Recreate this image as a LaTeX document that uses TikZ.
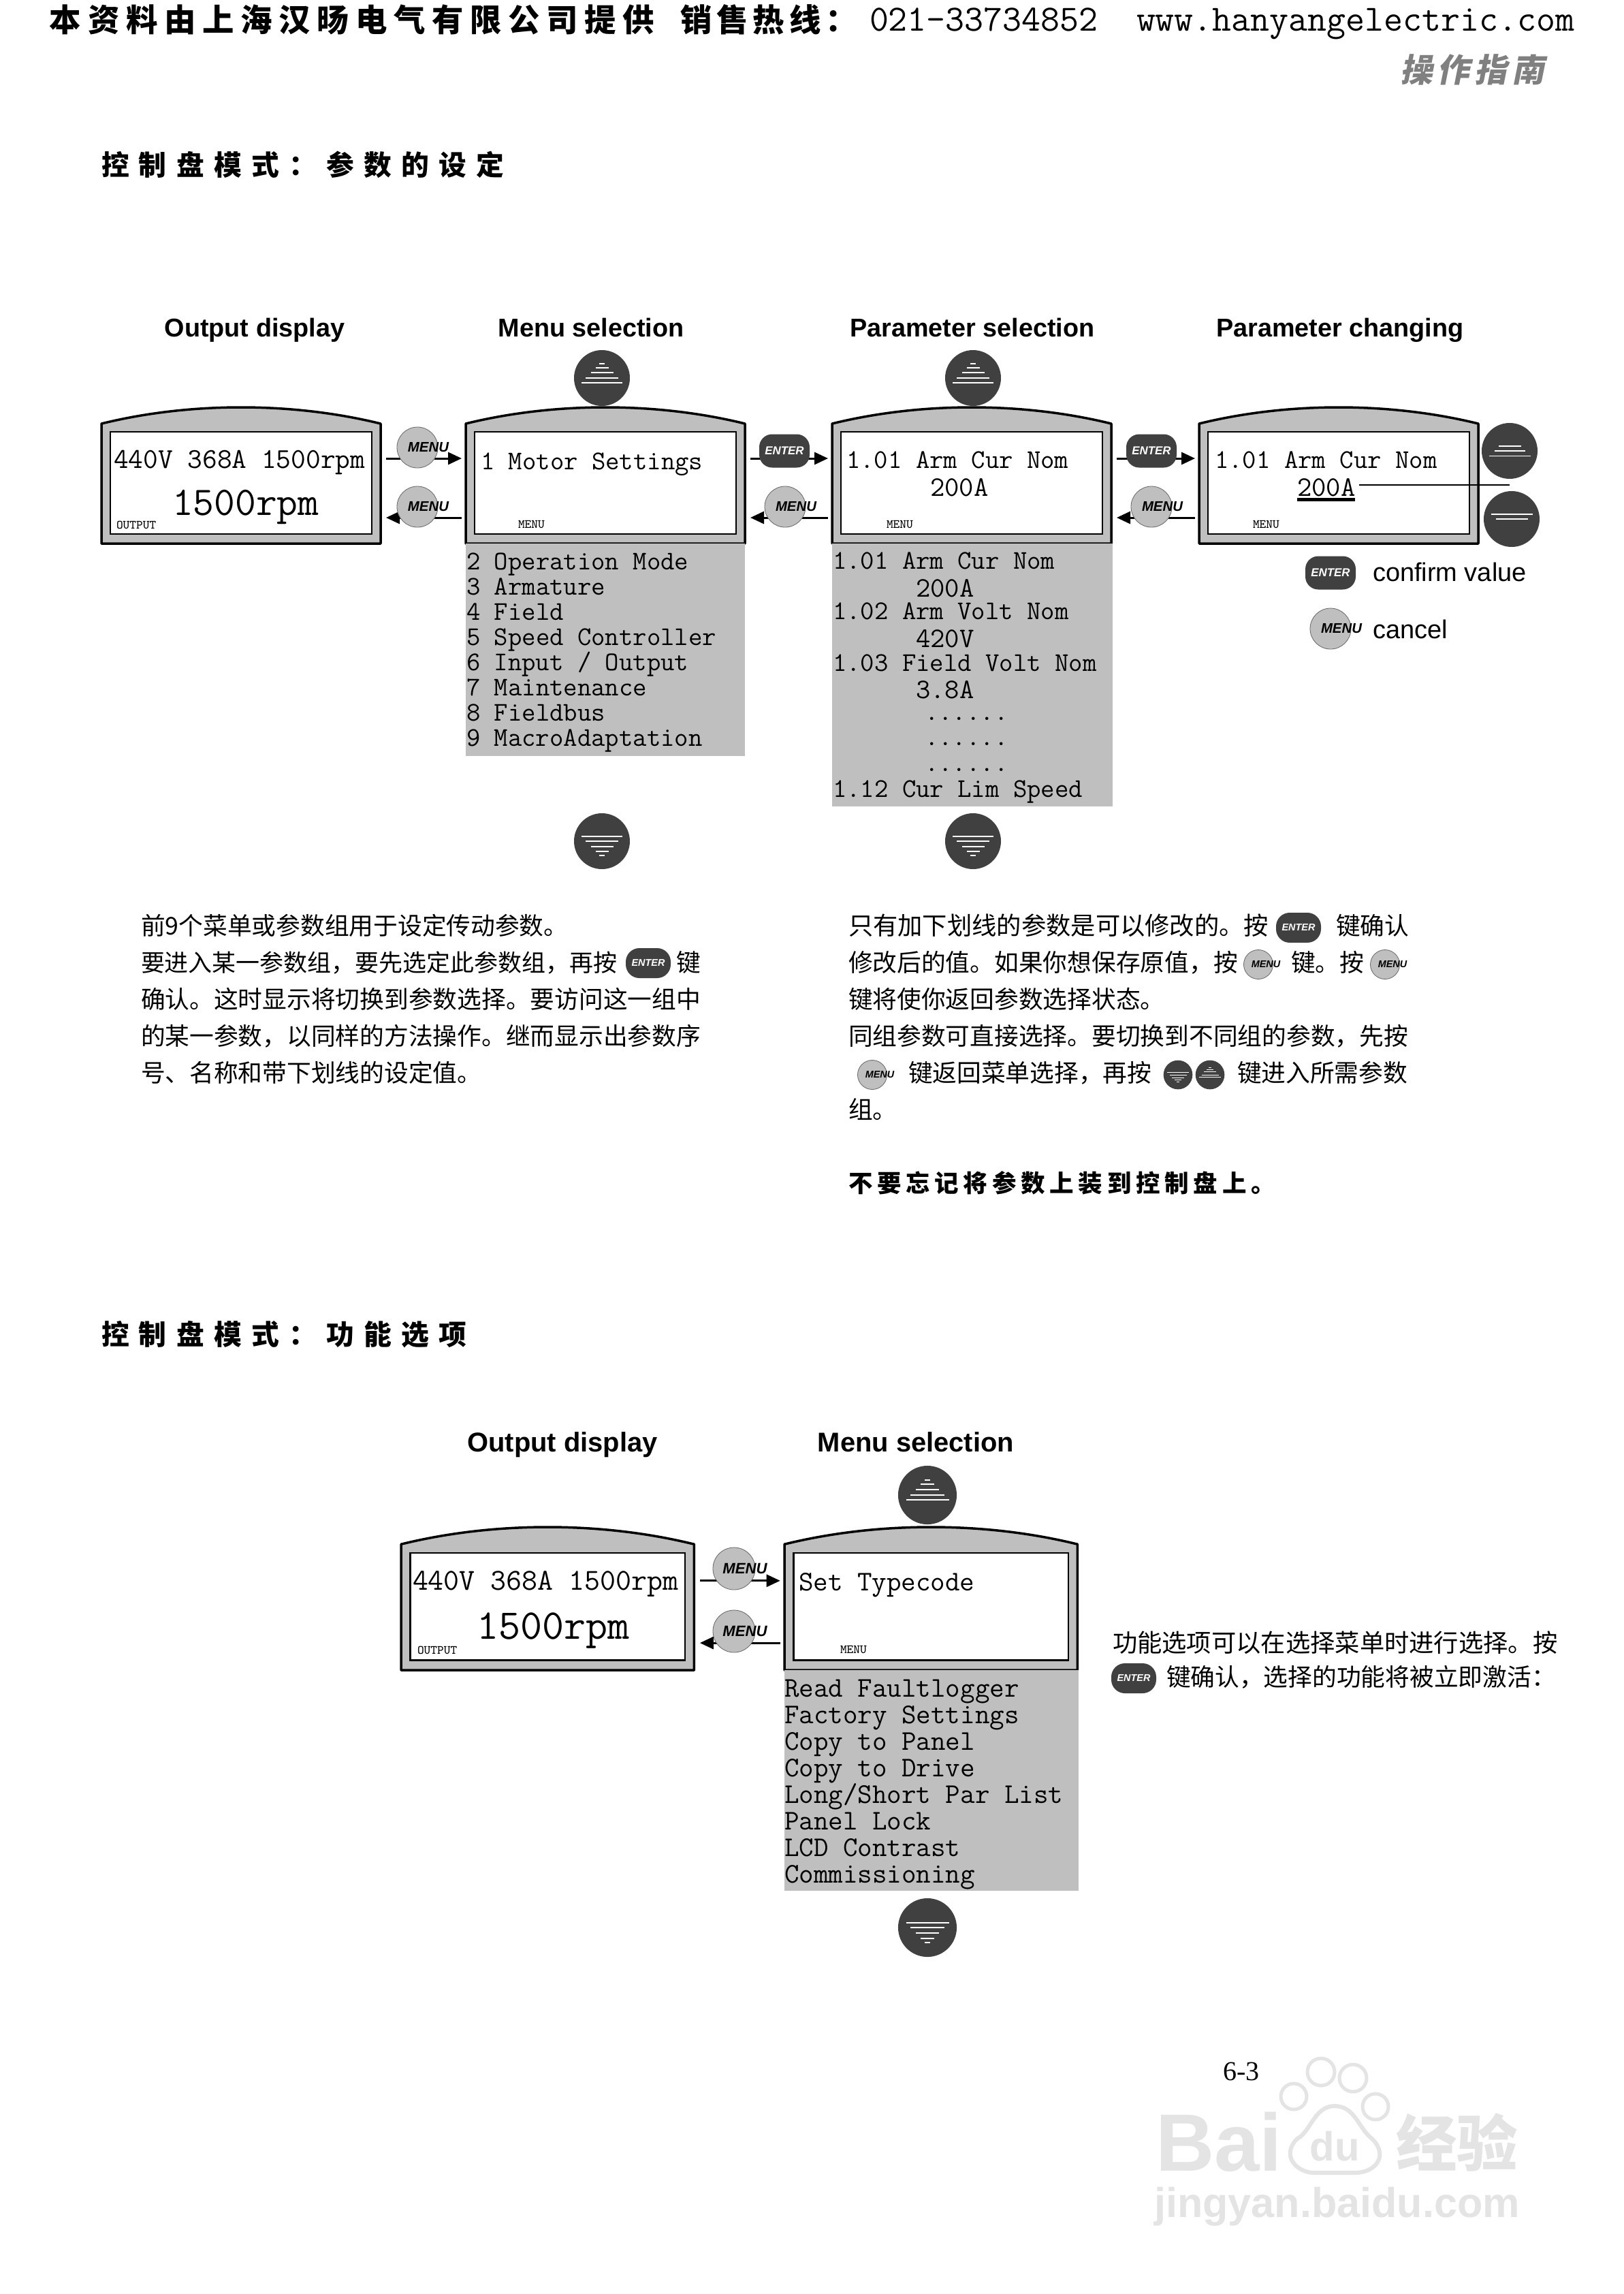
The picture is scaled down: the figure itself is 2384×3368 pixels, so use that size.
\documentclass[tikz,border=0pt]{standalone}
\usepackage{fontspec}
\setsansfont{Liberation Sans}
\newfontfamily\cjk{Noto Sans CJK SC}
\newfontfamily\cjkwide[LetterSpace=19]{Noto Sans CJK SC}
\newfontfamily\cjktop[LetterSpace=21]{Noto Sans CJK SC}
\newfontfamily\cjkhead[LetterSpace=35]{Noto Sans CJK SC}
\newfontfamily\cjkbold[LetterSpace=15]{Noto Sans CJK SC}
\newfontfamily\cjkslant[LetterSpace=15,FakeSlant=0.2]{Noto Sans CJK SC}
\newfontfamily\serifnum{Liberation Serif}
\usetikzlibrary{arrows.meta,positioning}
\definecolor{keydark}{HTML}{404040}
\definecolor{keylight}{HTML}{BFBFBF}
\definecolor{wmark}{HTML}{E4E4E4}

\begin{document}
\begin{tikzpicture}[
  x=.1mm,y=-.1mm,
  every node/.style={inner sep=0pt,outer sep=0pt},
  lcd/.style={anchor=base west,font=\ttfamily\fontsize{11.27pt}{12pt}\selectfont},
  lcdbig/.style={anchor=base west,font=\ttfamily\fontsize{12pt}{13pt}\selectfont},
  lcdhuge/.style={anchor=base west,font=\ttfamily\fontsize{17pt}{18pt}\selectfont},
  lcdtiny/.style={anchor=base west,font=\ttfamily\fontsize{5.2pt}{6pt}\selectfont},
  lcdval/.style={lcd,font=\ttfamily\fontsize{11.8pt}{12pt}\selectfont},
  lcdlong/.style={lcd,font=\ttfamily\fontsize{11.9pt}{12pt}\selectfont},
  greybox/.style={fill=keylight,draw=none,anchor=north west,minimum width=41mm},
  title/.style={anchor=base,font=\sffamily\bfseries\fontsize{10.75pt}{12pt}\selectfont},
  titlebig/.style={anchor=base,font=\sffamily\bfseries\fontsize{11.35pt}{12pt}\selectfont},
  body/.style={anchor=base west,font=\cjk\fontsize{10.17pt}{12pt}\selectfont},
  bodywide/.style={anchor=base west,font=\cjk\fontsize{10.33pt}{12pt}\selectfont},
  bodyslim/.style={anchor=base west,font=\cjk\fontsize{9.95pt}{12pt}\selectfont},
  chead/.style={anchor=base west,font=\cjkhead\bfseries\fontsize{11.6pt}{14pt}\selectfont},
  arr/.style={-{Triangle[length=2mm,width=1.8mm]},line width=.3mm},
  keyround/.style={circle,fill=keydark,minimum size=8.2mm*#1},
  upkey/.style={keyround=#1,path picture={
    \foreach \yy/\ww in {-21/8,-15/19,-8/33,0/48,7/60}
      \draw[white,line width=#1*.2mm] ([shift={({-\ww*#1/2},{\yy*#1})}]path picture bounding box.center) -- ++({\ww*#1},0);}},
  downkey/.style={keyround=#1,path picture={
    \foreach \yy/\ww in {21/8,15/19,8/33,0/48,-7/60}
      \draw[white,line width=#1*.2mm] ([shift={({-\ww*#1/2},{\yy*#1})}]path picture bounding box.center) -- ++({\ww*#1},0);}},
  upkey/.default=1,downkey/.default=1,
  incpkey/.style={keyround=1,path picture={
    \foreach \yy/\ww in {-7/33,0/45,7.5/61}
      \draw[white,line width=.17mm] ([shift={({-\ww/2},\yy)}]path picture bounding box.center) -- ++(\ww,0);}},
  decpkey/.style={keyround=1,path picture={
    \foreach \yy/\ww in {-7/61,0/47}
      \draw[white,line width=.17mm] ([shift={({-\ww/2},\yy)}]path picture bounding box.center) -- ++(\ww,0);}},
  enterkey/.style={rounded corners=1.9mm,fill=keydark,minimum width=7.4mm,minimum height=4.9mm,text=white,font=\sffamily\bfseries\itshape\fontsize{4.8pt}{5pt}\selectfont},
  enterkeysm/.style={enterkey,minimum width=6.6mm,minimum height=4.4mm,rounded corners=2mm,font=\sffamily\bfseries\itshape\fontsize{4.1pt}{5pt}\selectfont},
  menukey/.style={circle,fill=keylight,draw=black!60,line width=.08mm,minimum size=6mm,
    label={[font=\sffamily\bfseries\itshape\fontsize{5.8pt}{6pt}\selectfont,xshift=1.6mm]center:MENU}},
  menukeybig/.style={circle,fill=keylight,draw=black!60,line width=.08mm,minimum size=6.2mm,
    label={[font=\sffamily\bfseries\itshape\fontsize{6.3pt}{6pt}\selectfont,xshift=1.6mm]center:MENU}},
  menukeysm/.style={circle,fill=keylight,draw=black!60,line width=.08mm,minimum size=4.3mm,
    label={[font=\sffamily\bfseries\itshape\fontsize{4.1pt}{5pt}\selectfont,xshift=1.1mm]center:MENU}},
  panel/.pic={
    \path[fill=keylight,draw=black,line width=.35mm,line join=round] (0,24) .. controls (130,-8) and (280,-8) .. (410,24) -- (410,200) -- (0,200) -- cycle;
    \path[fill=white,draw=black,line width=.25mm] (13,36) rectangle (397,186);
    \coordinate (-ru) at (418,75);
    \coordinate (-rd) at (418,162);
    \coordinate (-lu) at (-6,75);
    \coordinate (-ld) at (-6,162);
    \coordinate (-list) at (0,200);
  }
]
\useasboundingbox (0,0) rectangle (2384,3368);

% header
\node[anchor=base west,font=\cjktop\bfseries\fontsize{13.2pt}{14pt}\selectfont] (hdr) at (73,46) {本资料由上海汉旸电气有限公司提供};
\node[anchor=base west,font=\cjkbold\bfseries\fontsize{13.2pt}{14pt}\selectfont] (hot) at (999,46) {销售热线：};
\node[anchor=base west,font=\ttfamily\fontsize{15.45pt}{16pt}\selectfont] (tel) at (1277,45) {021-33734852};
\node[anchor=base west,font=\ttfamily\fontsize{15.45pt}{16pt}\selectfont] (web) at (1669,45) {www.hanyangelectric.com};
\node[anchor=base west,text=black!50,font=\cjkslant\bfseries\fontsize{13.6pt}{14pt}\selectfont] (guide) at (2056,120) {操作指南};

% first section
\node[chead] (sec1) at (149,257) {控制盘模式：参数的设定};
\node[title] (t1) at (374,494) {Output display};
\node[title] (t2) at (868,494) {Menu selection};
\node[title] (t3) at (1428,494) {Parameter selection};
\node[title] (t4) at (1968,494) {Parameter changing};

\pic (pa) at (149,598) {panel};
\pic (pb) at (684,598) {panel};
\pic (pc) at (1222,598) {panel};
\pic (pd) at (1761,598) {panel};

\node[greybox,minimum height=31.2mm] (lb) at (pb-list) {};
\node[greybox,minimum width=41.2mm,minimum height=38.6mm] (lc) at (pc-list) {};

\draw[arr] (pa-ru)--(pb-lu);\draw[arr] (pb-ld)--(pa-rd);
\draw[arr] (pb-ru)--(pc-lu);\draw[arr] (pc-ld)--(pb-rd);
\draw[arr] (pc-ru)--(pd-lu);\draw[arr] (pd-ld)--(pc-rd);

\node[menukey] (ma1) at (613,657) {};
\node[menukey] (ma2) at (613,744) {};
\node[enterkey] (eb) at (1152,662) {ENTER};
\node[menukey] (mb) at (1153,744) {};
\node[enterkey] (ec) at (1691,662) {ENTER};
\node[menukey] (mc) at (1691,744) {};
\node[upkey] (ub) at (884,555) {};
\node[upkey] (uc) at (1429,555) {};
\node[downkey] (db) at (884,1235) {};
\node[downkey] (dc) at (1429,1235) {};
\node[incpkey] (ud) at (2217,662) {};
\node[decpkey] (dd) at (2220,762) {};

\node[lcdbig] (a1) at (167,687) {440V 368A 1500rpm};
\node[lcdhuge] (a2) at (253,756) {1500rpm};
\node[lcdtiny] (a3) at (171,776) {OUTPUT};
\node[lcd] (b1) at (706,689) {1 Motor Settings};
\node[lcdtiny] (b2) at (761,775) {MENU};
\node[lcd] (c1) at (1243,687) {1.01 Arm Cur Nom};
\node[lcdval] (c2) at (1366,728) {200A};
\node[lcdtiny] (c3) at (1302,775) {MENU};
\node[lcd] (d1) at (1784,687) {1.01 Arm Cur Nom};
\node[lcdval] (d2) at (1905,728) {200A};
\node[lcdtiny] (d3) at (1840,775) {MENU};
\draw[line width=.5mm] (d2.base west)+(0,5)--+(85,5);
\coordinate (dmid) at (2217,712);
\draw[line width=.2mm] (1996,712)--(dmid);

\node[enterkey] (ek) at (1954,841) {ENTER};
\node[anchor=base west,font=\sffamily\fontsize{10.8pt}{12pt}\selectfont] (ekt) at (2016,853) {confirm value};
\node[menukey] (mk) at (1954,923) {};
\node[anchor=base west,font=\sffamily\fontsize{10.8pt}{12pt}\selectfont] (mkt) at (2016,937) {cancel};

% menu list
\node[lcd] (l2) at (685,836) {2 Operation Mode};
\node[lcd] (l3) at (685,873) {3 Armature};
\node[lcd] (l4) at (685,910) {4 Field};
\node[lcd] (l5) at (685,947) {5 Speed Controller};
\node[lcd] (l6) at (685,984) {6 Input / Output};
\node[lcd] (l7) at (685,1021) {7 Maintenance};
\node[lcd] (l8) at (685,1058) {8 Fieldbus};
\node[lcd] (l9) at (685,1095) {9 MacroAdaptation};

% parameter list
\node[lcd] (q1) at (1223,835) {1.01 Arm Cur Nom};
\node[lcdval] (q2) at (1345,876) {200A};
\node[lcd] (q3) at (1223,909) {1.02 Arm Volt Nom};
\node[lcdval] (q4) at (1345,950) {420V};
\node[lcd] (q5) at (1223,985) {1.03 Field Volt Nom};
\node[lcdval] (q6) at (1345,1025) {3.8A};
\node[lcd] (q7) at (1358,1057) {......};
\node[lcd] (q8) at (1358,1094) {......};
\node[lcd] (q9) at (1358,1132) {......};
\node[lcd] (q10) at (1223,1170) {1.12 Cur Lim Speed};

% left text
\node[body] (x1) at (207,1372) {前9个菜单或参数组用于设定传动参数。};
\node[bodyslim] (x2) at (207,1426) {要进入某一参数组，要先选定此参数组，再按};
\node[enterkeysm] (xe) at (952,1414) {ENTER};
\node[body] (x2b) at (993,1426) {键};
\node[body] (x3) at (207,1480) {确认。这时显示将切换到参数选择。要访问这一组中};
\node[body] (x4) at (207,1534) {的某一参数，以同样的方法操作。继而显示出参数序};
\node[body] (x5) at (207,1588) {号、名称和带下划线的设定值。};

% right text
\node[bodywide] (y1) at (1246,1372) {只有加下划线的参数是可以修改的。按};
\node[enterkeysm] (ye) at (1907,1362) {ENTER};
\node[body] (y1b) at (1962,1372) {键确认};
\node[body] (y2) at (1246,1426) {修改后的值。如果你想保存原值，按};
\node[menukeysm] (ym1) at (1848,1416) {};
\node[body] (y2b) at (1896,1426) {键。按};
\node[menukeysm] (ym2) at (2034,1416) {};
\node[body] (y3) at (1246,1480) {键将使你返回参数选择状态。};
\node[body] (y4) at (1246,1534) {同组参数可直接选择。要切换到不同组的参数，先按};
\node[menukeysm] (ym3) at (1281,1578) {};
\node[body] (y5) at (1334,1588) {键返回菜单选择，再按};
\node[downkey=.52] (yd) at (1730,1578) {};
\node[upkey=.52] (yu) at (1777,1578) {};
\node[body] (y5b) at (1817,1588) {键进入所需参数};
\node[body] (y6) at (1246,1642) {组。};
\node[anchor=base west,font=\cjkwide\bfseries\fontsize{10.1pt}{12pt}\selectfont] (y7) at (1246,1750) {不要忘记将参数上装到控制盘上。};

% second section
\node[chead] (sec2) at (149,1974) {控制盘模式：功能选项};
\node[titlebig] (t5) at (826,2131) {Output display};
\node[titlebig] (t6) at (1345,2131) {Menu selection};

\coordinate (oe) at (589,2242);
\coordinate (of) at (1152,2242);
\pic[x=.105mm,y=-.105mm] (pe) at (oe) {panel};
\pic[x=.105mm,y=-.105mm] (pf) at (of) {panel};
\node[greybox,minimum width=43.2mm,minimum height=32.4mm] (lf) at (pf-list) {};

\draw[arr] (pe-ru)--(pf-lu);\draw[arr] (pf-ld)--(pe-rd);
\node[menukeybig] (me1) at (1078,2303) {};
\node[menukeybig] (me2) at (1078,2395) {};
\node[upkey=1.05] (uf) at (1362,2195) {};
\node[downkey=1.05] (df) at (1362,2830) {};

\node[anchor=base west,font=\ttfamily\fontsize{12.7pt}{13pt}\selectfont] (e1) at (606,2334) {440V 368A 1500rpm};
\node[anchor=base west,font=\ttfamily\fontsize{17.7pt}{18pt}\selectfont] (e2) at (700,2406) {1500rpm};
\node[lcdtiny] (e3) at (613,2428) {OUTPUT};
\node[lcdlong] (f1) at (1173,2335) {Set Typecode};
\node[lcdtiny] (f2) at (1234,2427) {MENU};

\node[lcdlong] (r1) at (1152,2491) {Read Faultlogger};
\node[lcdlong] (r2) at (1152,2530) {Factory Settings};
\node[lcdlong] (r3) at (1152,2569) {Copy to Panel};
\node[lcdlong] (r4) at (1152,2608) {Copy to Drive};
\node[lcdlong] (r5) at (1152,2647) {Long/Short Par List};
\node[lcdlong] (r6) at (1152,2686) {Panel Lock};
\node[lcdlong] (r7) at (1152,2725) {LCD Contrast};
\node[lcdlong] (r8) at (1152,2764) {Commissioning};

\node[bodywide] (z1) at (1634,2425) {功能选项可以在选择菜单时进行选择。按};
\node[enterkeysm] (ze) at (1665,2464) {ENTER};
\node[body] (z2) at (1713,2475) {键确认，选择的功能将被立即激活：};

% page number and watermark
\node[anchor=base west,font=\serifnum\fontsize{11.4pt}{12pt}\selectfont] (pg) at (1796,3054) {6-3};
\node[anchor=base west,text=wmark,font=\sffamily\bfseries\fontsize{34pt}{36pt}\selectfont] (wb) at (1697,3187) {Bai};
\draw[wmark,line width=.5mm,fill=white] (1900,3078) circle (19) (1940,3042) circle (20) (1987,3051) circle (20) (2020,3093) circle (19);
\draw[wmark,line width=.6mm,fill=white] (1960,3092) .. controls (1930,3092) and (1925,3130) .. (1905,3140) .. controls (1880,3165) and (1905,3190) .. (1930,3190) -- (1990,3190) .. controls (2020,3190) and (2040,3165) .. (2015,3140) .. controls (1995,3125) and (1990,3092) .. (1960,3092) -- cycle;
\node[text=wmark,font=\sffamily\bfseries\fontsize{17pt}{18pt}\selectfont] (wd) at (1960,3151) {du};
\node[anchor=base west,text=wmark,font=\cjk\bfseries\fontsize{25.5pt}{26pt}\selectfont] (wj) at (2050,3180) {经验};
\node[anchor=base west,text=wmark,font=\sffamily\bfseries\fontsize{17.4pt}{20pt}\selectfont] (wu) at (1695,3255) {jingyan.baidu.com};
\end{tikzpicture}
\end{document}
